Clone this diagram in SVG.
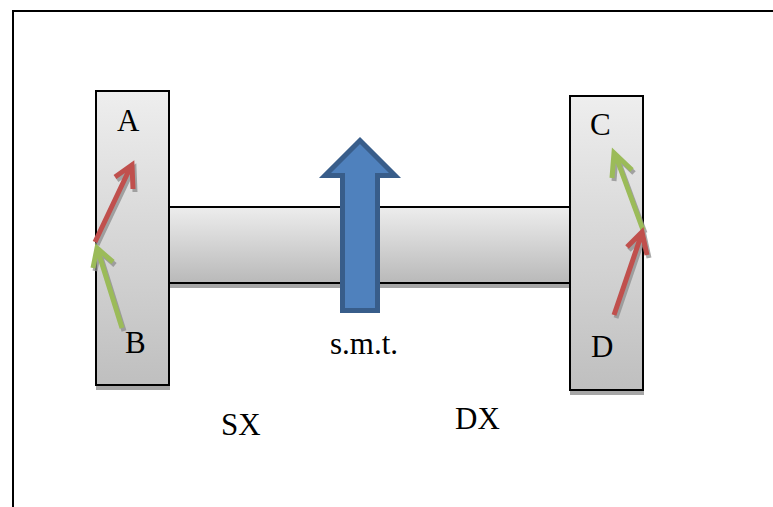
<svg xmlns="http://www.w3.org/2000/svg" width="773" height="507" viewBox="0 0 773 507">
<style>
.lbl{font-family:"Liberation Serif","Times New Roman",serif;font-size:31px;fill:#000}
.box{stroke:#000;stroke-width:2;fill:url(#g)}
.shadow{fill:#a6a6a6}
.ar{fill:none;stroke-width:5;stroke-linejoin:miter}
.sh{stroke:#8c8c8c;opacity:.75}
.red{stroke:#c0504d}
.green{stroke:#9bbb59}
</style>
<defs>
<linearGradient id="g" x1="0" y1="0" x2="0" y2="1"><stop offset="0" stop-color="#eeeeee"/><stop offset="1" stop-color="#bfbfbf"/></linearGradient>
<linearGradient id="g2" x1="0" y1="0" x2="0" y2="1"><stop offset="0" stop-color="#ededed"/><stop offset="1" stop-color="#b9b9b9"/></linearGradient>
<path id="a1" d="M95 242L131 166M115 177L132 165L133 189"/>
<path id="a2" d="M122 328L97 248M93 268L97 248L113 262"/>
<path id="a3" d="M643 230L615 154M612 178L614 153L632 170"/>
<path id="a4" d="M614 315L642 233M627 247L642 232L647 255"/>
</defs>
<rect x="0" y="0" width="773" height="507" fill="#fff"/>
<path id="frame" d="M13 507V11H773" fill="none" stroke="#000" stroke-width="2"/>
<g id="shaft"><rect class="shadow" x="169" y="208" width="402" height="80"/><rect x="169" y="207" width="402" height="76" fill="url(#g2)" stroke="#000" stroke-width="2"/></g>
<g id="left-block"><rect class="shadow" x="96" y="93" width="74" height="297"/><rect class="box" x="96" y="91" width="73" height="294"/>
<text class="lbl" x="117" y="131">A</text><text class="lbl" x="125" y="353">B</text></g>
<g id="right-block"><rect class="shadow" x="570" y="98" width="74" height="297"/><rect class="box" x="570" y="96" width="73" height="294"/>
<text class="lbl" x="590" y="135">C</text><text class="lbl" x="591" y="357">D</text></g>
<g id="force">
<path d="M342.500 310.500V175.500H325L360 140.500L395 175.500H377.500V310.500Z" fill="#4f81bd" stroke="#385d8a" stroke-width="5"/>
</g>
<g id="connectors">
<g class="ar sh" transform="translate(2,3)">
<use href="#a1"/><use href="#a2"/><use href="#a3"/><use href="#a4"/>
</g>
<g class="ar">
<use href="#a1" class="red"/>
<use href="#a2" class="green"/>
<use href="#a3" class="green"/>
<use href="#a4" class="red"/>
</g>
</g>
<text class="lbl" x="330" y="354">s.m.t.</text>
<text class="lbl" x="221" y="435">SX</text>
<text class="lbl" x="455" y="429">DX</text>
</svg>
